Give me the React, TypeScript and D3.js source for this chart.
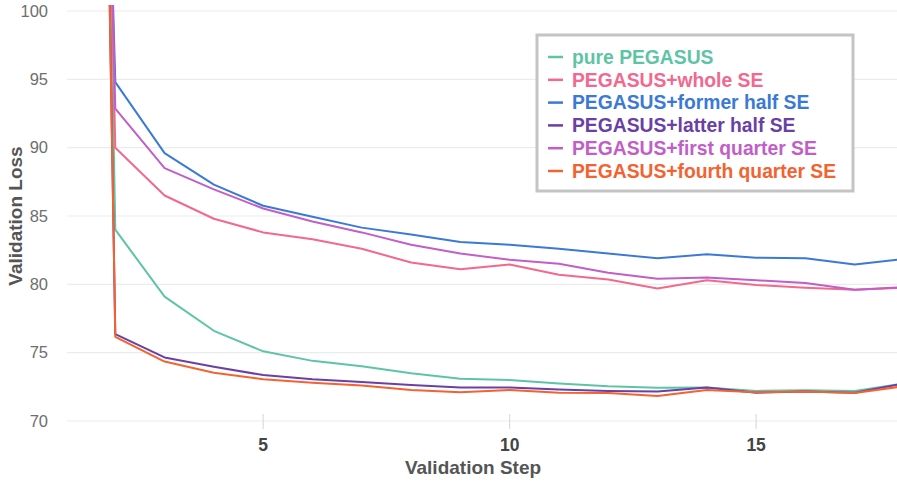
import React from "react";
import * as d3 from "d3";

const steps = [1, 2, 3, 4, 5, 6, 7, 8, 9, 10, 11, 12, 13, 14, 15, 16, 17, 18];
const pure = [280, 84.0, 79.1, 76.6, 75.1, 74.4, 74.0, 73.5, 73.1, 73.0, 72.75, 72.55, 72.43, 72.46, 72.2, 72.25, 72.2, 72.75];
const whole = [250, 90.0, 86.5, 84.8, 83.8, 83.3, 82.6, 81.6, 81.1, 81.45, 80.7, 80.35, 79.7, 80.3, 79.95, 79.75, 79.6, 79.75];
const former = [220, 94.8, 89.6, 87.3, 85.75, 84.95, 84.15, 83.65, 83.1, 82.9, 82.6, 82.25, 81.9, 82.2, 81.95, 81.9, 81.45, 81.85];
const latter = [290, 76.35, 74.65, 73.97, 73.36, 73.05, 72.85, 72.63, 72.46, 72.46, 72.3, 72.2, 72.15, 72.45, 72.07, 72.15, 72.07, 72.75];
const firstQuarter = [240, 92.85, 88.5, 86.95, 85.55, 84.6, 83.8, 82.9, 82.25, 81.8, 81.5, 80.85, 80.4, 80.5, 80.3, 80.1, 79.6, 79.8];
const fourthQuarter = [290, 76.16, 74.35, 73.53, 73.05, 72.8, 72.6, 72.27, 72.1, 72.27, 72.07, 72.05, 71.83, 72.27, 72.1, 72.15, 72.05, 72.55];

const seriesNames = [
  "pure PEGASUS",
  "PEGASUS+whole SE",
  "PEGASUS+former half SE",
  "PEGASUS+latter half SE",
  "PEGASUS+first quarter SE",
  "PEGASUS+fourth quarter SE",
];
const seriesValues = [pure, whole, former, latter, firstQuarter, fourthQuarter];
const colors = ["#5ec4a6", "#f2688e", "#3b79d8", "#6a3fa6", "#c25ec8", "#f4622f"];

const yTicks = [70, 75, 80, 85, 90, 95, 100];
const xTicks = [5, 10, 15];

const W = 897;
const H = 481;

export default function App() {
  const x = d3.scaleLinear().domain([1, 18]).range([66, 904]);
  const y = d3.scaleLinear().domain([70, 100]).range([421, 11]);
  const line = d3
    .line<number>()
    .x((_, i) => x(steps[i]))
    .y((d) => y(d));

  const font = "'Liberation Sans', Arial, Helvetica, sans-serif";

  return (
    <svg
      width={W}
      height={H}
      style={{ position: "absolute", left: 0, top: 0, background: "#fff" }}
      fontFamily={font}
    >
      <defs>
        <clipPath id="plotClip">
          <rect x={66} y={5} width={W - 66} height={430} />
        </clipPath>
      </defs>
      {yTicks.map((t) => (
        <g key={t}>
          <line x1={67} x2={W} y1={y(t)} y2={y(t)} stroke="#ececec" strokeWidth={1.2} />
          <text x={48} y={y(t)} dy="0.35em" textAnchor="end" fontSize={16.5} fill="#6e6e6e">
            {t}
          </text>
        </g>
      ))}
      {xTicks.map((t) => (
        <g key={t}>
          <line x1={x(t)} x2={x(t)} y1={414} y2={429} stroke="#dcdcdc" strokeWidth={1.2} />
          <text x={x(t)} y={451} textAnchor="middle" fontSize={17.5} fontWeight="bold" fill="#444">
            {t}
          </text>
        </g>
      ))}
      <text x={473} y={474} textAnchor="middle" fontSize={19} fontWeight="bold" fill="#555">
        Validation Step
      </text>
      <text
        transform={`translate(22,${(y(70) + y(100)) / 2}) rotate(-90)`}
        textAnchor="middle"
        fontSize={19}
        fontWeight="bold"
        fill="#555"
      >
        Validation Loss
      </text>
      <g clipPath="url(#plotClip)">
        {seriesValues.map((vals, i) => (
          <path
            key={seriesNames[i]}
            d={line(vals) || ""}
            fill="none"
            stroke={colors[i]}
            strokeWidth={2}
            strokeLinejoin="round"
          />
        ))}
      </g>
      <g>
        <rect x={537} y={35} width={316} height={156} fill="#fff" stroke="#c4c4c4" strokeWidth={3} />
        {seriesNames.map((name, i) => {
          const cy = 57 + i * 22.8;
          return (
            <g key={name}>
              <line x1={548} x2={563} y1={cy} y2={cy} stroke={colors[i]} strokeWidth={2.5} />
              <text x={572} y={cy} dy="0.35em" fontSize={19.3} fontWeight="bold" fill={colors[i]}>
                {name}
              </text>
            </g>
          );
        })}
      </g>
    </svg>
  );
}
